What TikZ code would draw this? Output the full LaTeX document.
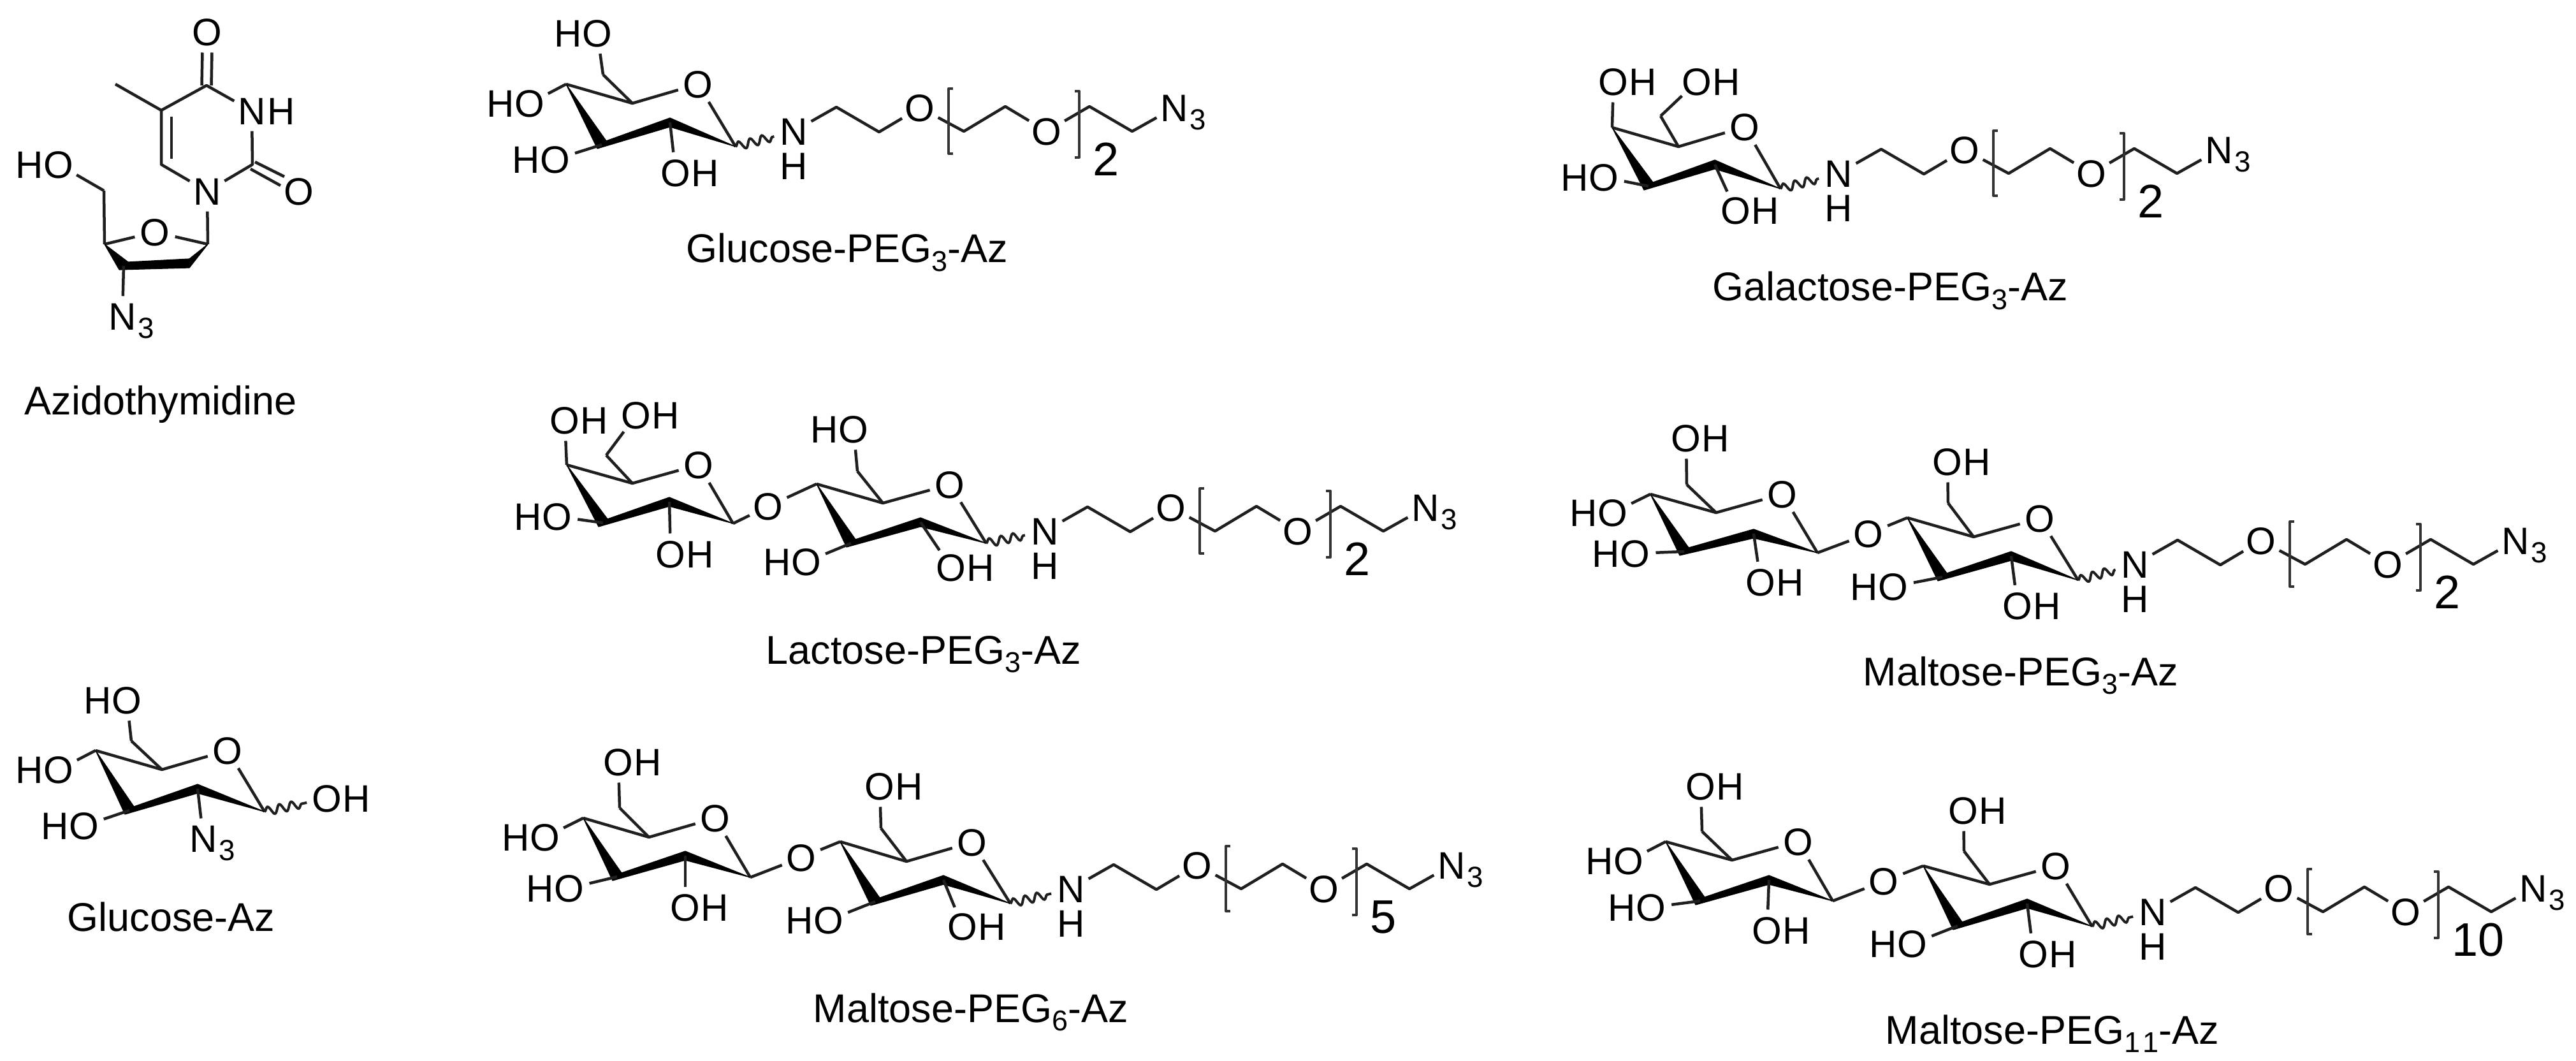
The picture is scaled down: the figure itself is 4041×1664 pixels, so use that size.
\documentclass[tikz,border=0pt]{standalone}
\usepackage{fontspec}
\setmainfont{Liberation Sans}
\usetikzlibrary{calc,decorations.pathmorphing}
\tikzset{
  bond/.style={draw=black!88,line width=.045cm,line join=round},
  bracketline/.style={draw=black!80,line width=.04cm,line join=round},
  wavy/.style={draw=black!88,line width=.04cm,decorate,decoration={snake,segment length=.19cm,amplitude=.065cm}},
  atom/.style={circle,inner sep=0pt,minimum size=.62cm,text height=.43cm,text depth=0pt,font=\fontsize{17.07}{20}\selectfont},
  hyd/.style={inner sep=0pt,text height=.43cm,text depth=0pt,font=\fontsize{17.07}{20}\selectfont},
  subthree/.style={inner sep=0pt,font=\fontsize{13}{15}\selectfont},
  repcount/.style={inner sep=0pt,anchor=west,font=\fontsize{21}{25}\selectfont},
  caption/.style={inner sep=0pt,anchor=base west,font=\fontsize{17.9}{21}\selectfont},
}
\newcommand\subs[1]{\raisebox{-.13cm}{\fontsize{12.8}{14}\selectfont #1}}
% narrow-wide-wide-narrow solid front edge of a ring
\newcommand\boldb[4]{\fill[black,draw=black,line width=.012cm,line join=round] (#1) -- ($(#2)+(-7,6)$) -- ($(#3)+(0,7)$) -- (#4) -- ($(#3)+(0,-7)$) -- ($(#2)+(7,-6)$) -- cycle;}
% prefix, C1, C2, C3, C4, C5, O, C6
\newcommand\sugar[8]{
  \coordinate (#1C1) at (#2); \coordinate (#1C2) at (#3); \coordinate (#1C3) at (#4);
  \coordinate (#1C4) at (#5); \coordinate (#1C5) at (#6); \coordinate (#1C6) at (#8);
  \node[atom] (#1O) at (#7) {O};
  \draw[bond] (#1C4) -- (#1C5) -- (#1O);
  \draw[bond] (#1O) -- (#1C1);
  \draw[bond] (#1C5) -- (#1C6);
  \boldb{#1C4}{#1C3}{#1C2}{#1C1}
}
\newcommand\ohgrp[3]{\node[atom] (#1) at (#2) {O}; \node[hyd,anchor=west] (#1H) at ([xshift=.235cm]#1.center) {H}; \draw[bond] (#3) -- (#1);}
\newcommand\hogrp[3]{\node[atom] (#1) at (#2) {O}; \node[hyd,anchor=east] (#1H) at ([xshift=-.235cm]#1.center) {H}; \draw[bond] (#3) -- (#1);}
\newcommand\azide[2]{\node[atom] (#1) at (#2) {N}; \node[subthree] (#1s) at ([xshift=.37cm,yshift=-.19cm]#1.center) {3};}
% prefix, position of first chain O, repeat count
\newcommand\pegtail[3]{
  \begin{scope}[shift={(#2)}]
    \node[atom] (#1O1) at (0,0) {O};
    \node[atom] (#1N) at (-198,37) {N};
    \node[hyd] (#1NH) at (-198,91) {H};
    \coordinate (#1a) at (-131,-1);
    \coordinate (#1b) at (-64,38);
    \coordinate (#1c) at (69,37);
    \coordinate (#1d) at (134,-2);
    \node[atom] (#1O2) at (199,37) {O};
    \coordinate (#1e) at (266,-2);
    \coordinate (#1f) at (333,37);
    \azide{#1Az}{399,0}
    \draw[bond] (#1N) -- (#1a) -- (#1b) -- (#1O1) -- (#1c) -- (#1d) -- (#1O2) -- (#1e) -- (#1f) -- (#1Az);
    \coordinate (#1L1) at (52,-30); \coordinate (#1L2) at (45,-30);
    \coordinate (#1L3) at (45,72);  \coordinate (#1L4) at (52,72);
    \draw[bracketline] (#1L1) -- (#1L2) -- (#1L3) -- (#1L4);
    \coordinate (#1R1) at (243,-26); \coordinate (#1R2) at (250,-26);
    \coordinate (#1R3) at (250,78);  \coordinate (#1R4) at (243,78);
    \draw[bracketline] (#1R1) -- (#1R2) -- (#1R3) -- (#1R4);
    \node[repcount] (#1n) at (271,81) {#3};
  \end{scope}
}
\begin{document}
\begin{tikzpicture}[x=.01cm,y=-.01cm]
\useasboundingbox (0,0) rectangle (4041,1664);

% ---------- Azidothymidine
\coordinate (tC4) at (324,134);
\coordinate (tC5) at (253,173);
\coordinate (tC6) at (253,258);
\coordinate (tC2) at (396,258);
\coordinate (tMe) at (181,132);
\node[atom] (tO4) at (325,50) {O};
\node[atom] (tN3) at (395,174) {N};
\node[hyd,anchor=west] (tN3H) at ([xshift=.235cm]tN3.center) {H};
\node[atom] (tO2) at (469,300) {O};
\node[atom] (tN1) at (325,300) {N};
\draw[bond] (tN1) -- (tC6) -- (tC5) -- (tC4) -- (tN3) -- (tC2) -- (tN1);
\draw[bond] (tC5) -- (tMe);
\draw[bond] ([xshift=-.075cm]tC4) -- ([xshift=-.075cm]tO4.south);
\draw[bond] ([xshift=.075cm]tC4) -- ([xshift=.075cm]tO4.south);
\coordinate (td1) at (269,183); \coordinate (td2) at (269,249);
\draw[bond] (td1) -- (td2);
\coordinate (td3) at (400,254); \coordinate (td4) at (446,277);
\coordinate (td5) at (393,265); \coordinate (td6) at (440,291);
\draw[bond] (td3) -- (td4);
\draw[bond] (td5) -- (td6);
\coordinate (fC1) at (326,383);
\coordinate (fC2) at (297,413);
\coordinate (fC3) at (194,417);
\coordinate (fC4) at (164,383);
\coordinate (fC5) at (163,299);
\node[atom] (fO) at (243,364) {O};
\draw[bond] (fC4) -- (fO) -- (fC1);
\draw[bond] (fC1) -- (tN1);
\draw[bond] (fC4) -- (fC5);
\node[atom] (fHO) at (92,258) {O};
\node[hyd,anchor=east] (fHOH) at ([xshift=-.235cm]fHO.center) {H};
\draw[bond] (fC5) -- (fHO);
\boldb{fC4}{fC3}{fC2}{fC1}
\azide{fAz}{192,496}
\draw[bond] (fC3) -- (fAz);
\node[caption] (capT) at (38,650) {Azidothymidine};

% ---------- Glucose-Az
\sugar{a}{415,1273}{310,1237}{203,1271}{150,1177}{254,1207}{357,1177}{206,1162}
\hogrp{aO6}{199,1098}{aC6}
\hogrp{aO4}{92,1207}{aC4}
\hogrp{aO3}{132,1295}{aC3}
\azide{aAz}{319,1315}
\draw[bond] (aC2) -- (aAz);
\node[atom] (aO1) at (513,1252) {O};
\node[hyd,anchor=west] (aO1H) at ([xshift=.235cm]aO1.center) {H};
\draw[wavy] (aC1) -- (aO1);
\node[caption] (capA) at (105,1460) {Glucose-Az};

% ---------- Glucose-PEG3-Az
\sugar{g}{1154,230}{1051,192}{944,227}{888,132}{992,162}{1095,132}{946,117}
\hogrp{gO6}{937,52}{gC6}
\hogrp{gO4}{831,162}{gC4}
\hogrp{gO3}{871,250}{gC3}
\ohgrp{gO2}{1060,271}{gC2}
\pegtail{gp}{1443,169}{2}
\draw[wavy] (gC1) -- (gpN);
\node[caption] (capG) at (1076,412) {Glucose-PEG\subs{3}-Az};

% ---------- Galactose-PEG3-Az
\sugar{b}{2793,296}{2690,258}{2586,292}{2529,200}{2633,230}{2737,199}{2605,182}
\ohgrp{bO6}{2662,128}{bC6}
\ohgrp{bO4}{2531,128}{bC4}
\hogrp{bO3}{2516,278}{bC3}
\ohgrp{bO2}{2723,330}{bC2}
\pegtail{bp}{3082,235}{2}
\draw[wavy] (bC1) -- (bpN);
\node[caption] (capB) at (2686,472) {Galactose-PEG\subs{3}-Az};

% ---------- Lactose-PEG3-Az
\sugar{la}{1150,821}{1050,787}{946,820}{889,729}{992,758}{1096,729}{951,714}
\ohgrp{laO6}{998,651}{laC6}
\ohgrp{laO4}{886,659}{laC4}
\hogrp{laO3}{874,810}{laC3}
\ohgrp{laO2}{1052,869}{laC2}
\sugar{lb}{1547,852}{1444,819}{1335,852}{1281,759}{1385,789}{1490,760}{1345,739}
\hogrp{lbO6}{1339,673}{lbC6}
\hogrp{lbO3}{1265,881}{lbC3}
\ohgrp{lbO2}{1492,890}{lbC2}
\node[atom] (lG) at (1205,794) {O};
\draw[bond] (laC1) -- (lG) -- (lbC4);
\pegtail{lp}{1837,796}{2}
\draw[wavy] (lbC1) -- (lpN);
\node[caption] (capL) at (1201,1041) {Lactose-PEG\subs{3}-Az};

% ---------- Maltose-PEG3-Az
\sugar{ma}{2851,867}{2751,837}{2642,865}{2589,775}{2692,804}{2796,775}{2646,760}
\ohgrp{maO6}{2645,687}{maC6}
\hogrp{maO4}{2530,804}{maC4}
\hogrp{maO3}{2565,868}{maC3}
\ohgrp{maO2}{2762,913}{maC2}
\sugar{mb}{3260,910}{3155,872}{3047,905}{2992,812}{3096,842}{3200,813}{3056,789}
\ohgrp{mbO6}{3055,724}{mbC6}
\hogrp{mbO3}{2970,920}{mbC3}
\ohgrp{mbO2}{3165,950}{mbC2}
\node[atom] (mG) at (2931,837) {O};
\draw[bond] (maC1) -- (mG) -- (mbC4);
\pegtail{mp}{3547,848}{2}
\draw[wavy] (mbC1) -- (mpN);
\node[caption] (capM) at (2922,1075) {Maltose-PEG\subs{3}-Az};

% ---------- Maltose-PEG6-Az
\sugar{na}{1177,1376}{1075,1342}{968,1375}{915,1283}{1018,1313}{1122,1283}{972,1267}
\ohgrp{naO6}{970,1195}{naC6}
\hogrp{naO4}{855,1313}{naC4}
\hogrp{naO3}{893,1393}{naC3}
\ohgrp{naO2}{1075,1423}{naC2}
\sugar{nb}{1585,1417}{1480,1380}{1373,1414}{1318,1320}{1422,1351}{1525,1321}{1382,1299}
\ohgrp{nbO6}{1380,1233}{nbC6}
\hogrp{nbO3}{1300,1443}{nbC3}
\ohgrp{nbO2}{1510,1453}{nbC2}
\node[atom] (nG) at (1257,1345) {O};
\draw[bond] (naC1) -- (nG) -- (nbC4);
\pegtail{np}{1878,1357}{5}
\draw[wavy] (nbC1) -- (npN);
\node[caption] (capN) at (1275,1603) {Maltose-PEG\subs{6}-Az};

% ---------- Maltose-PEG11-Az
\sugar{pa}{2875,1413}{2775,1380}{2667,1413}{2613,1320}{2717,1349}{2821,1320}{2670,1304}
\ohgrp{paO6}{2668,1233}{paC6}
\hogrp{paO4}{2555,1350}{paC4}
\hogrp{paO3}{2590,1423}{paC3}
\ohgrp{paO2}{2772,1459}{paC2}
\sugar{pb}{3282,1453}{3180,1417}{3071,1452}{3017,1358}{3121,1387}{3225,1358}{3081,1335}
\ohgrp{pbO6}{3080,1271}{pbC6}
\hogrp{pbO3}{3000,1480}{pbC3}
\ohgrp{pbO2}{3190,1496}{pbC2}
\node[atom] (pG) at (2955,1382) {O};
\draw[bond] (paC1) -- (pG) -- (pbC4);
\pegtail{pp}{3575,1393}{10}
\draw[wavy] (pbC1) -- (ppN);
\node[caption] (capP) at (2957,1637) {Maltose-PEG\subs{1\kern.04cm 1}-Az};
\end{tikzpicture}
\end{document}
